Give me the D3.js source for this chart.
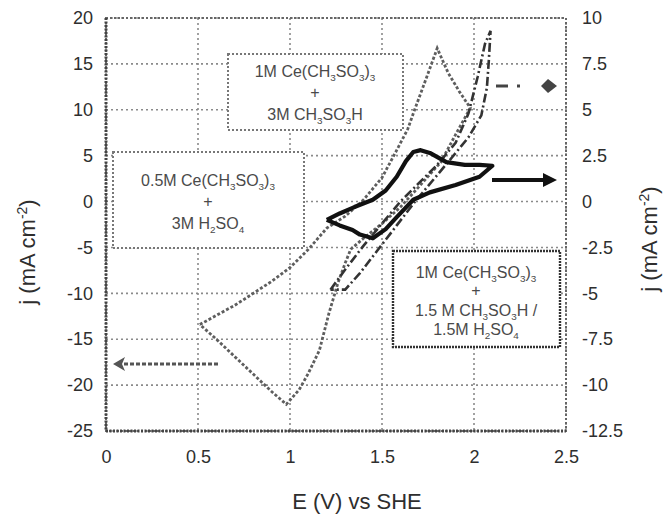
<!DOCTYPE html>
<html><head><meta charset="utf-8">
<script src="https://cdn.jsdelivr.net/npm/d3@7"></script>
<style>
html,body{margin:0;padding:0;background:#fff;}
svg{display:block;font-family:"Liberation Sans",Arial,sans-serif;}
</style></head>
<body><svg id="c" width="668" height="516"></svg>
<script>
// ---- data ----
const xTicks = [0, 0.5, 1, 1.5, 2, 2.5];
const xTickLabels = ["0", "0.5", "1", "1.5", "2", "2.5"];
const yLeftTicks = [20, 15, 10, 5, 0, -5, -10, -15, -20, -25];
const yRightTicks = [10, 7.5, 5, 2.5, 0, -2.5, -5, -7.5, -10, -12.5];

// 0.5M Ce(CH3SO3)3 + 3M H2SO4  (left axis)
const seriesH2SO4 = [
  [0.51,-13.4],[0.6,-12.4],[0.7,-11.3],[0.77,-10.4],[0.9,-8.7],[1.0,-7.2],[1.1,-5.2],[1.2,-2.9],
  [1.3,-1.6],[1.4,0.2],[1.5,2.6],[1.58,5.6],[1.64,7.9],[1.67,9.6],[1.74,13.4],[1.8,16.7],
  [1.86,14.0],[1.92,12.0],[1.98,10.2],[1.9,7.3],[1.82,4.3],[1.7,1.6],[1.6,-0.6],[1.5,-2.4],
  [1.4,-4.0],[1.33,-5.2],[1.3,-6.7],[1.26,-8.9],[1.21,-12.3],[1.16,-16.2],[1.1,-18.7],
  [1.05,-20.5],[0.98,-22.1],[0.9,-20.7],[0.8,-18.8],[0.7,-16.9],[0.6,-15.0],[0.51,-13.4]
];
// 1M Ce(CH3SO3)3 + 3M CH3SO3H  (right axis)
const seriesMSA = [
  [1.22,-4.8],[1.3,-3.7],[1.4,-2.4],[1.5,-1.2],[1.6,0.0],[1.7,1.0],[1.8,2.0],[1.9,3.2],
  [1.97,4.8],[2.02,6.8],[2.06,8.6],[2.09,9.3],[2.08,7.6],[2.07,6.2],[2.04,4.7],[1.97,3.5],
  [1.88,2.4],[1.78,1.2],[1.68,0.0],[1.58,-1.3],[1.48,-2.6],[1.38,-3.9],[1.3,-4.8],[1.22,-4.8]
];
// 1M Ce(CH3SO3)3 + 1.5M CH3SO3H / 1.5M H2SO4  (right axis)
const seriesMixed = [
  [1.20,-1.0],[1.27,-0.65],[1.35,-0.3],[1.45,0.1],[1.52,0.6],[1.58,1.35],[1.63,2.2],[1.67,2.7],
  [1.71,2.8],[1.76,2.65],[1.85,2.15],[1.95,2.0],[2.03,2.0],[2.10,1.95],[2.03,1.35],[1.9,0.9],
  [1.76,0.5],[1.67,0.1],[1.58,-0.85],[1.52,-1.5],[1.45,-2.0],[1.38,-1.8],[1.34,-1.55],
  [1.27,-1.3],[1.20,-1.0]
];

// ---- layout ----
const svg = d3.select("#c");
const x = d3.scaleLinear().domain([0, 2.5]).range([106, 566]);
const yL = d3.scaleLinear().domain([-25, 20]).range([431, 18]);
const yR = d3.scaleLinear().domain([-12.5, 10]).range([431, 18]);
const txt = "#2e2e2e";

// grid
const grid = svg.append("g");
grid.selectAll("line.h").data(yLeftTicks).join("line")
  .attr("x1", x(0)).attr("x2", x(2.5)).attr("y1", d => yL(d)).attr("y2", d => yL(d))
  .attr("stroke", "#8a8a8a").attr("stroke-width", 1.6).attr("stroke-dasharray", "2,3");
grid.selectAll("line.v").data(xTicks).join("line")
  .attr("y1", yL(20)).attr("y2", yL(-25)).attr("x1", d => x(d)).attr("x2", d => x(d))
  .attr("stroke", "#8a8a8a").attr("stroke-width", 1.6).attr("stroke-dasharray", "2,3");
// frame
svg.append("rect").attr("x", x(0)).attr("y", yL(20)).attr("width", x(2.5)-x(0)).attr("height", yL(-25)-yL(20))
  .attr("fill", "none").attr("stroke", "#666").attr("stroke-width", 2).attr("stroke-dasharray", "2,2");
svg.append("line").attr("x1", x(0)).attr("x2", x(0)).attr("y1", yL(20)).attr("y2", yL(-25))
  .attr("stroke", "#444").attr("stroke-width", 3).attr("stroke-dasharray", "2,1.5");
svg.append("line").attr("x1", x(0)).attr("x2", x(2.5)).attr("y1", yL(-25)).attr("y2", yL(-25))
  .attr("stroke", "#444").attr("stroke-width", 3).attr("stroke-dasharray", "2,1.5");

// axes (labels only)
const fmt = d => String(d).replace("\u2212", "-");
const axL = d3.axisLeft(yL).tickValues(yLeftTicks).tickSize(0).tickPadding(13).tickFormat(fmt);
const axR = d3.axisRight(yR).tickValues(yRightTicks).tickSize(0).tickPadding(16).tickFormat(fmt);
const axB = d3.axisBottom(x).tickValues(xTicks).tickSize(0).tickPadding(19).tickFormat((d,i) => xTickLabels[i]);
function styleAxis(g){ g.select(".domain").remove(); g.selectAll("text").attr("fill", txt).attr("font-size", 18); }
svg.append("g").attr("transform", `translate(${x(0)},0)`).call(axL).call(styleAxis);
svg.append("g").attr("transform", `translate(${x(2.5)},0)`).call(axR).call(styleAxis);
svg.append("g").attr("transform", `translate(0,${yL(-25)})`).call(axB).call(styleAxis);

// axis titles
function jLabel(g){
  g.append("tspan").text("j (mA cm");
  g.append("tspan").attr("dy", -8).attr("font-size", 14).text("-2");
  g.append("tspan").attr("dy", 8).text(")");
}
svg.append("text").attr("transform", "translate(35,252) rotate(-90)").attr("text-anchor", "middle")
  .attr("fill", txt).attr("font-size", 22).call(jLabel);
svg.append("text").attr("transform", "translate(657,239) rotate(-90)").attr("text-anchor", "middle")
  .attr("fill", txt).attr("font-size", 22).call(jLabel);
svg.append("text").attr("x", 357).attr("y", 509).attr("text-anchor", "middle")
  .attr("fill", txt).attr("font-size", 22).text("E (V) vs SHE");

// curves
const lineL = d3.line().x(d => x(d[0])).y(d => yL(d[1]));
const lineR = d3.line().x(d => x(d[0])).y(d => yR(d[1]));
svg.append("path").attr("d", lineL(seriesH2SO4)).attr("fill", "none")
  .attr("stroke", "#5e5e5e").attr("stroke-width", 2.8).attr("stroke-dasharray", "3,2");
svg.append("path").attr("d", lineR(seriesMSA)).attr("fill", "none")
  .attr("stroke", "#333").attr("stroke-width", 2.6).attr("stroke-dasharray", "9,3,2,3");
svg.append("path").attr("d", lineR(seriesMixed)).attr("fill", "none")
  .attr("stroke", "#111").attr("stroke-width", 4.2).attr("stroke-linejoin", "round");

// legend boxes
function box(x0, y0, w, h, stroke, sw, dash){
  svg.append("rect").attr("x", x0).attr("y", y0).attr("width", w).attr("height", h)
    .attr("fill", "#fff").attr("stroke", stroke).attr("stroke-width", sw).attr("stroke-dasharray", dash);
}
function rich(xc, yb, parts, size){
  const t = svg.append("text").attr("x", xc).attr("y", yb).attr("text-anchor", "middle")
    .attr("fill", "#4a4a4a").attr("font-size", size);
  let shifted = false;
  parts.forEach(p => {
    if (typeof p === "string") {
      const s = t.append("tspan").text(p);
      if (shifted) { s.attr("dy", -4); shifted = false; }
    } else {
      const s = t.append("tspan").attr("font-size", size*0.62).text(p.sub);
      if (!shifted) s.attr("dy", 4);
      shifted = true;
    }
  });
}
box(228, 54, 175, 76, "#777", 2, "2,2");
rich(315, 77, ["1M Ce(CH", {sub:"3"}, "SO", {sub:"3"}, ")", {sub:"3"}], 16);
rich(315, 98, ["+"], 16);
rich(315, 120, ["3M CH", {sub:"3"}, "SO", {sub:"3"}, "H"], 16);

box(113, 152, 191, 96, "#777", 2, "2,2");
rich(208, 186, ["0.5M Ce(CH", {sub:"3"}, "SO", {sub:"3"}, ")", {sub:"3"}], 16);
rich(208, 207, ["+"], 16);
rich(208, 229, ["3M H", {sub:"2"}, "SO", {sub:"4"}], 16);

box(393, 251, 167, 96, "#333", 2.4, "2,1");
rich(476, 278, ["1M Ce(CH", {sub:"3"}, "SO", {sub:"3"}, ")", {sub:"3"}], 16);
rich(476, 296, ["+"], 16);
rich(476, 316, ["1.5 M CH", {sub:"3"}, "SO", {sub:"3"}, "H /"], 16);
rich(476, 335, ["1.5M H", {sub:"2"}, "SO", {sub:"4"}], 16);

// arrows
svg.append("line").attr("x1", 218).attr("x2", 122).attr("y1", yL(-17.7)).attr("y2", yL(-17.7))
  .attr("stroke", "#555").attr("stroke-width", 3).attr("stroke-dasharray", "4,2");
svg.append("path").attr("d", `M113,${yL(-17.7)} l12,-7 l-3,7 l3,7 z`).attr("fill", "#555");

svg.append("line").attr("x1", 492).attr("x2", 545).attr("y1", 180).attr("y2", 180)
  .attr("stroke", "#111").attr("stroke-width", 4);
svg.append("path").attr("d", "M557,180 l-14,-7 l0,14 z").attr("fill", "#111");

svg.append("line").attr("x1", 496).attr("x2", 538).attr("y1", 86).attr("y2", 86)
  .attr("stroke", "#444").attr("stroke-width", 3).attr("stroke-dasharray", "12,9,3,30");
svg.append("path").attr("d", "M557,86 l-9,-7 l-7,7 l7,7 z").attr("fill", "#444");
</script></body></html>
